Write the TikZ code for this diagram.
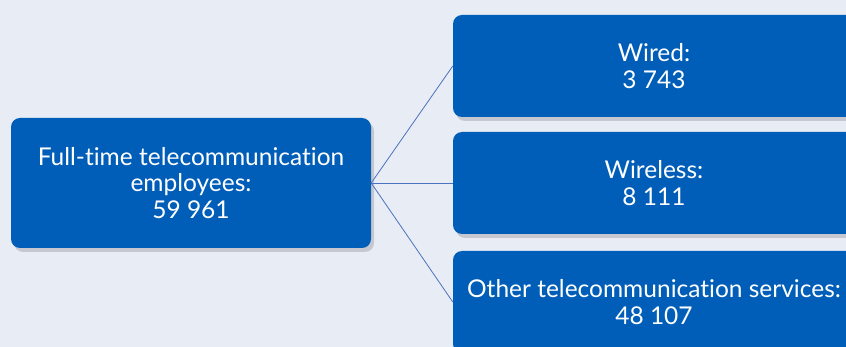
\documentclass[tikz,border=0pt]{standalone}
\usepackage{fontspec}
\setmainfont{Lato}[Ligatures={NoCommon}]
\usetikzlibrary{shadows}
\definecolor{bgcol}{RGB}{232,236,245}
\definecolor{boxblue}{RGB}{0,94,184}
\definecolor{linkblue}{RGB}{74,114,190}
\tikzset{
  catbox/.style={fill=boxblue, rounded corners=9pt, text=white, align=center,
    inner sep=0pt, font=\fontsize{24.5}{26.5}\selectfont,
    drop shadow={shadow xshift=3pt, shadow yshift=-4pt, fill=black, opacity=0.15}},
  leftbox/.style={catbox, minimum width=360pt, minimum height=130pt},
  rightbox/.style={catbox, minimum width=402pt, minimum height=102pt},
  link/.style={draw=linkblue, line width=0.8pt}
}
\begin{document}
\begin{tikzpicture}[x=1pt,y=-1pt]
  % Background and frame
  \fill[bgcol] (0,0) rectangle (846,347);
  \useasboundingbox (0,0) rectangle (846,347);
  \clip (0,0) rectangle (846,347);

  % Boxes
  \node[leftbox] (total) at (191,183) {Full-time telecommunication\\employees:\\59 961};
  \node[rightbox] (wired) at (654,66) {Wired:\\3 743};
  \node[rightbox] (wireless) at (654,183) {Wireless:\\8 111};
  \node[rightbox] (other) at (654,302) {Other telecommunication services:\\48 107};

  % Connectors
  \draw[link] (total.east) -- (wired.west);
  \draw[link] (total.east) -- (wireless.west);
  \draw[link] (total.east) -- (other.west);
\end{tikzpicture}
\end{document}
